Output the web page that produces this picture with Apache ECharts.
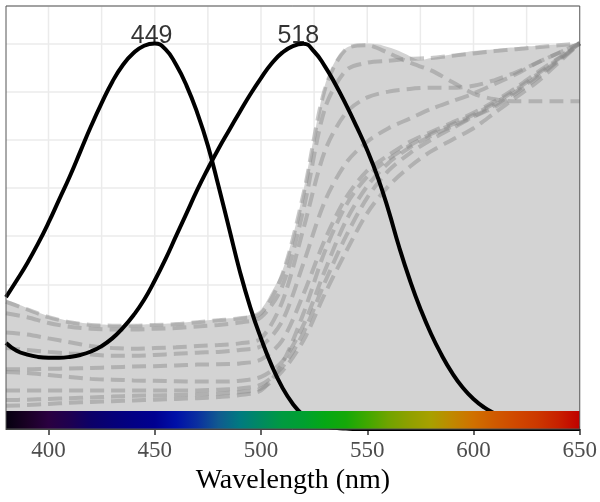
<!DOCTYPE html>
<html><head><meta charset="utf-8">
<script src="https://cdn.jsdelivr.net/npm/echarts@6/dist/echarts.min.js"></script>
<style>html,body{margin:0;padding:0;background:#fff}#chart{width:600px;height:502px}</style>
</head><body><div id="chart"></div>
<script>
// ---- data ----
const wl5 = [380,385,390,395,400,405,410,415,420,425,430,435,440,445,450,455,460,465,470,475,480,485,490,495,500,505,510,515,520,525,530,535,540,545,550,555,560,565,570,575,580,585,590,595,600,605,610,615,620,625,630,635,640,645,650];
const pigment449 = [0.342,0.385,0.43,0.48,0.535,0.595,0.655,0.72,0.785,0.845,0.9,0.944,0.975,0.994,1.0,0.985,0.945,0.89,0.82,0.735,0.63,0.52,0.41,0.315,0.235,0.165,0.108,0.065,0.035,0.017,0.007,0.003,0.001,0,0,0,0,0,0,0,0,0,0,0,0,0,0,0,0,0,0,0,0,0,0];
const pigment518 = [0.223,0.203,0.193,0.187,0.185,0.185,0.187,0.192,0.201,0.215,0.235,0.262,0.295,0.335,0.385,0.44,0.5,0.56,0.62,0.675,0.727,0.775,0.822,0.868,0.91,0.948,0.976,0.993,0.999,0.979,0.941,0.894,0.841,0.784,0.723,0.652,0.567,0.472,0.387,0.312,0.247,0.192,0.145,0.107,0.078,0.056,0.04,0.028,0.02,0.014,0.01,0.007,0.005,0.003,0.002];
const envelope = [0.335,0.325,0.314,0.303,0.293,0.286,0.28,0.276,0.272,0.271,0.27,0.27,0.27,0.271,0.272,0.273,0.275,0.277,0.28,0.282,0.285,0.287,0.29,0.296,0.31,0.355,0.41,0.5,0.62,0.76,0.89,0.955,0.988,0.998,1.0,0.998,0.99,0.98,0.967,0.957,0.962,0.967,0.972,0.976,0.98,0.983,0.985,0.988,0.99,0.992,0.993,0.995,0.997,0.998,1.0];

const wl10 = [380,390,400,410,420,430,440,450,460,470,480,490,500,510,520,530,540,550,560,570,580,590,600,610,620,630,640,650];
const spectrum1 = [0.33,0.31,0.29,0.277,0.27,0.268,0.268,0.27,0.272,0.277,0.282,0.287,0.30,0.40,0.61,0.88,0.985,0.995,0.975,0.95,0.93,0.90,0.87,0.855,0.85,0.85,0.85,0.85];
const spectrum2 = [0.30,0.29,0.275,0.265,0.26,0.258,0.258,0.26,0.262,0.266,0.27,0.276,0.29,0.37,0.57,0.83,0.93,0.95,0.955,0.96,0.962,0.968,0.974,0.98,0.985,0.99,0.995,1.0];
const spectrum3 = [0.25,0.245,0.235,0.225,0.215,0.21,0.208,0.21,0.212,0.215,0.218,0.222,0.235,0.33,0.52,0.72,0.82,0.86,0.875,0.882,0.885,0.885,0.89,0.905,0.925,0.95,0.975,1.0];
const spectrum4 = [0.21,0.205,0.2,0.196,0.193,0.19,0.19,0.192,0.195,0.198,0.2,0.205,0.215,0.28,0.43,0.59,0.69,0.745,0.78,0.805,0.83,0.85,0.87,0.895,0.92,0.95,0.975,1.0];
const spectrum5 = [0.155,0.155,0.156,0.157,0.158,0.16,0.162,0.163,0.165,0.167,0.168,0.17,0.18,0.23,0.35,0.49,0.6,0.67,0.71,0.745,0.77,0.795,0.82,0.85,0.885,0.925,0.962,1.0];
const spectrum6 = [0.148,0.145,0.14,0.135,0.13,0.128,0.126,0.125,0.124,0.123,0.123,0.125,0.135,0.175,0.27,0.41,0.54,0.63,0.69,0.73,0.76,0.785,0.81,0.835,0.87,0.91,0.955,1.0];
const spectrum7 = [0.10,0.10,0.10,0.10,0.10,0.10,0.10,0.10,0.10,0.10,0.102,0.105,0.115,0.16,0.25,0.38,0.5,0.6,0.67,0.715,0.75,0.78,0.81,0.84,0.875,0.915,0.957,1.0];
const spectrum8 = [0.075,0.076,0.078,0.08,0.082,0.084,0.086,0.087,0.088,0.09,0.092,0.096,0.105,0.15,0.23,0.35,0.46,0.56,0.63,0.68,0.72,0.75,0.78,0.82,0.86,0.9,0.95,1.0];
const spectrum9 = [0.06,0.062,0.065,0.068,0.07,0.072,0.074,0.076,0.078,0.08,0.083,0.088,0.1,0.17,0.3,0.46,0.58,0.655,0.7,0.735,0.765,0.79,0.815,0.845,0.88,0.92,0.96,1.0];
const spectra = [spectrum1,spectrum2,spectrum3,spectrum4,spectrum5,spectrum6,spectrum7,spectrum8,spectrum9];

const peakWl = [449, 518];
const peakValue = [1.0, 1.0];
const peakLabels = ['449', '518'];

const xTicks = [400,450,500,550,600,650];
const xGridLines = [400,425,450,475,500,525,550,575,600,625];

const barWl = wl10;
const barColors = ['#05000f','#1a0025','#2a0040','#1e0050','#0c0068','#060078','#020085','#000090','#0010a8','#0a2fa0','#105a90','#007a80','#008a60','#009a40','#00a030','#05a815','#15a808','#40a800','#70a400','#90a000','#a8a000','#c08800','#d07000','#d05a00','#d04800','#cc3800','#c82000','#c00000'];

// ---- layout constants ----
const xMin = 380, xMax = 650, yMax = 1.097, barTop = 0.047;

const chart = echarts.init(document.getElementById('chart'), null, {renderer:'canvas'});

const pair = (xs, ys) => xs.map((x, i) => [x, ys[i]]);

const series = [];
series.push({
  type:'custom', z:1, silent:true,
  data: xGridLines.map(v => [v, 0]),
  renderItem: (p, api) => {
    const t = api.coord([api.value(0), yMax]);
    const b = api.coord([api.value(0), 0]);
    return {type:'line', shape:{x1:t[0], y1:t[1], x2:b[0], y2:b[1]}, style:{stroke:'#ebebeb', lineWidth:1.5}};
  }
});
series.push({
  type:'line', z:2, data: pair(wl5, envelope), smooth:0.3, symbol:'none',
  lineStyle:{width:0}, areaStyle:{color:'#d3d3d3', opacity:1}, silent:true
});
spectra.forEach(s => series.push({
  type:'line', z:3, data: pair(wl10, s), smooth:0.3, symbol:'none', silent:true,
  lineStyle:{color:'rgba(135,135,135,0.45)', width:4, type:[14,7]}
}));
[pigment449, pigment518].forEach(s => series.push({
  type:'line', z:4, data: pair(wl5, s), smooth:0.5, symbol:'none', silent:true,
  lineStyle:{color:'#000', width:4}
}));
series.push({
  type:'custom', z:5, silent:true,
  data: [[xMin, 0, xMax, barTop]],
  renderItem: (p, api) => {
    const a = api.coord([api.value(0), api.value(3)]);
    const b = api.coord([api.value(2), api.value(1)]);
    const stops = barWl.map((w, i) => ({offset:(w - xMin)/(xMax - xMin), color:barColors[i]}));
    return {type:'rect', shape:{x:a[0], y:a[1], width:b[0]-a[0], height:b[1]-a[1]},
      style:{fill:new echarts.graphic.LinearGradient(0,0,1,0,stops)}};
  }
});
series.push({
  type:'custom', z:6, silent:true,
  data: [[xMin, 0, xMax, yMax]],
  renderItem: (p, api) => {
    const a = api.coord([api.value(0), api.value(3)]);
    const b = api.coord([api.value(2), api.value(1)]);
    return {type:'rect', shape:{x:a[0], y:a[1], width:b[0]-a[0], height:b[1]-a[1]},
      style:{fill:null, stroke:'#555', lineWidth:1}};
  }
});
series.push({
  type:'scatter', z:7, symbolSize:0, silent:true,
  data: pair(peakWl, peakValue),
  label:{show:true, position:'top', distance:0, offset:[-1,5],
    formatter: p => peakLabels[p.dataIndex],
    fontFamily:'Liberation Sans', fontSize:25, color:'#000'}
});

chart.setOption({
  animation:false,
  backgroundColor:'#fff',
  grid:{left:6, right:18, top:6, bottom:73, containLabel:false},
  xAxis:{
    type:'value', min:xMin, max:xMax,
    name:'Wavelength (nm)', nameLocation:'middle', nameGap:37,
    nameTextStyle:{fontFamily:'Liberation Serif', fontSize:28, color:'#000'},
    axisLine:{show:true, lineStyle:{color:'#333', width:1}},
    axisTick:{show:true, customValues:xTicks, length:6, lineStyle:{color:'#333', width:1.5}},
    axisLabel:{show:true, customValues:xTicks, margin:10, fontFamily:'Liberation Serif', fontSize:23, color:'#4d4d4d'},
    splitLine:{show:false}
  },
  yAxis:{
    type:'value', min:0, max:yMax, interval:0.125,
    axisLine:{show:false}, axisTick:{show:false}, axisLabel:{show:false},
    splitLine:{show:true, lineStyle:{color:'#ebebeb', width:1.5}}
  },
  series
});
</script></body></html>
